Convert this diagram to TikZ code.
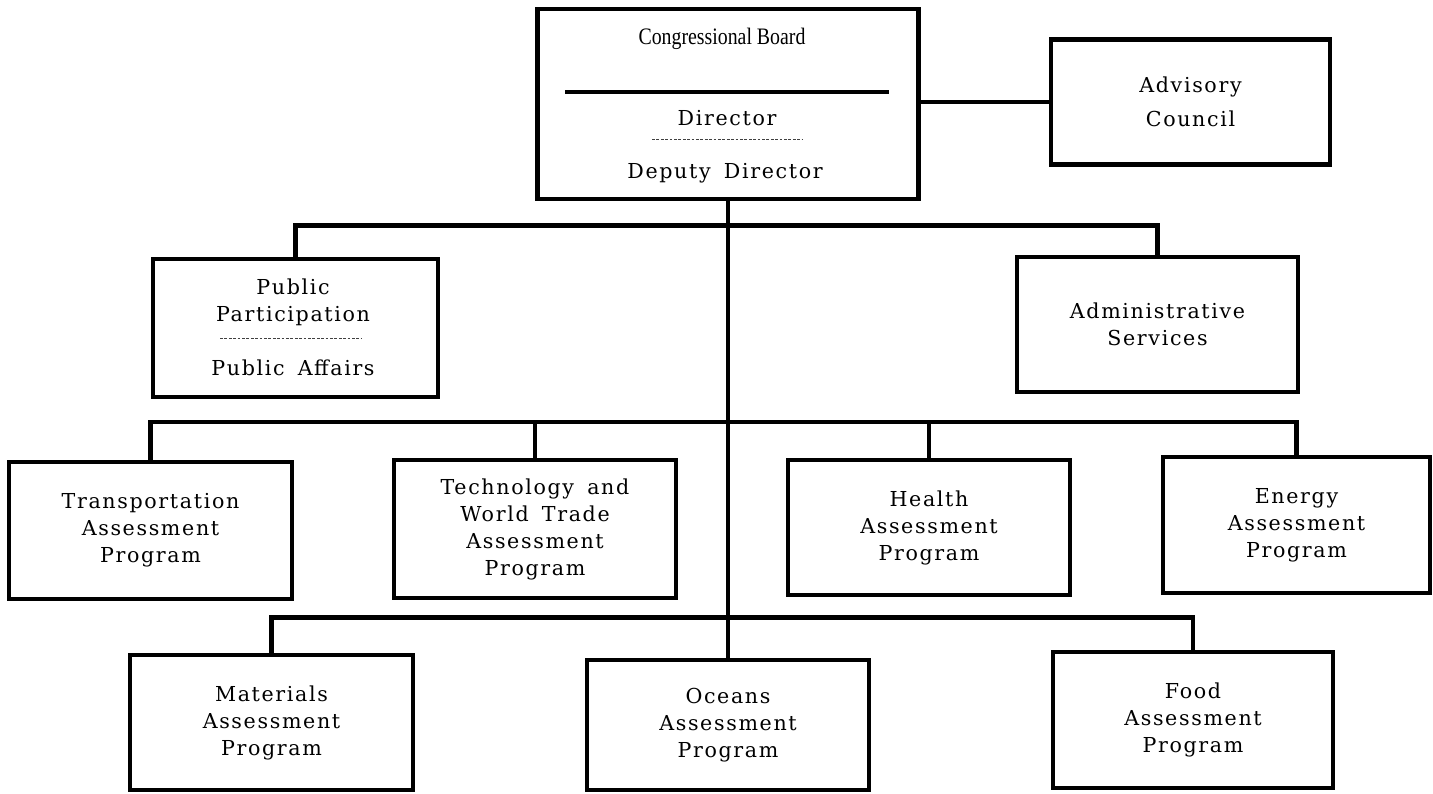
\documentclass[tikz,border=0pt]{standalone}
\usepackage{fontspec}
\setmainfont[LetterSpace=8]{DejaVu Serif}
\newfontfamily\boardfont[FakeStretch=0.84]{Liberation Serif}
\usetikzlibrary{positioning}
\def\wire{\draw[line width=2.3pt]}
\def\orgsize{\fontsize{10.3}{13.5}\selectfont}
\def\wsp{\hspace{2.5pt} }

\begin{document}
\begin{tikzpicture}[x=0.5pt,y=-0.5pt,
    orgbox/.style={draw,line width=2.3pt,inner sep=0pt,align=center,font=\orgsize},
    orgtext/.style={inner sep=0pt,align=center,font=\orgsize},
    dashsep/.style={draw=black!75,line width=0.5pt,dash pattern=on 1.4pt off 0.8pt}]
  \fill[white] (0,0) rectangle (1433,793);
  \useasboundingbox (0,0) rectangle (1433,793);
  % boxes
  \node[orgbox,minimum width=190.5pt,minimum height=95pt] (board) at (728,104) {};
  \node[orgbox,minimum width=139.5pt,minimum height=62.5pt,font=\fontsize{10.3}{17}\selectfont] (advisory) at (1190.5,102) {Advisory\\Council};
  \node[orgbox,minimum width=142.5pt,minimum height=69pt] (public) at (295.5,328) {};
  \node[orgbox,minimum width=140.5pt,minimum height=67.5pt] (admin) at (1157.5,324.5) {Administrative\\Services};
  \node[orgbox,minimum width=141.5pt,minimum height=68.5pt] (trans) at (150.5,530.5) {Transportation\\Assessment\\Program};
  \node[orgbox,minimum width=141pt,minimum height=69pt] (tech) at (535,529) {Technology\wsp and\\World\wsp Trade\\Assessment\\Program};
  \node[orgbox,minimum width=141pt,minimum height=67.5pt] (health) at (929,527.5) {Health\\Assessment\\Program};
  \node[orgbox,minimum width=133.5pt,minimum height=68pt] (energy) at (1296.5,525) {Energy\\Assessment\\Program};
  \node[orgbox,minimum width=141.5pt,minimum height=67.5pt] (materials) at (271.5,722.5) {Materials\\Assessment\\Program};
  \node[orgbox,minimum width=141pt,minimum height=65pt] (oceans) at (728,725) {Oceans\\Assessment\\Program};
  \node[orgbox,minimum width=140pt,minimum height=68pt] (food) at (1193,720) {Food\\Assessment\\Program};
  % inside the board
  \node[orgtext,font=\boardfont\fontsize{11.8}{14}\selectfont] (cboard) at (722,39) {Congressional Board};
  \draw[line width=2.3pt] (565,92) -- (889,92);
  \node[orgtext] (director) at (727,118) {Director};
  \draw[dashsep] (652,139) -- (803,139);
  \node[orgtext] (deputy) at (725,173) {Deputy\wsp Director};
  % inside public participation
  \node[orgtext] (pubpart) at (293,302) {Public\\Participation};
  \draw[dashsep] (220,338) -- (362,338);
  \node[orgtext] (pubaff) at (293,368) {Public\wsp Affairs};
  % connectors
  \coordinate (mid) at (728,422);
  \wire (board.east |- advisory.west) -- (advisory.west);
  \draw[line width=1.7pt] (board.south) -- (oceans.north);
  \wire (public.north) -- ++(0,-31) -| (admin.north);
  \wire (trans.north) |- (mid);
  \wire (tech.north) -- (tech.north |- mid);
  \wire (energy.north) |- (mid);
  \wire (health.north) -- (health.north |- mid);
  \wire (materials.north) -- ++(0,-35) -| (food.north);
\end{tikzpicture}
\end{document}
